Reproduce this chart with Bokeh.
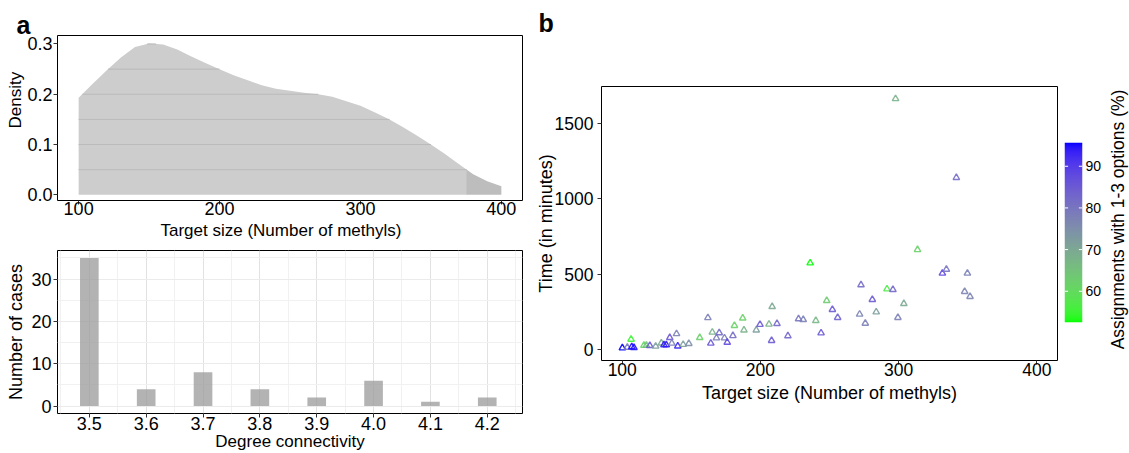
import numpy as np
from bokeh.plotting import figure
from bokeh.models import Range1d, FixedTicker, PrintfTickFormatter, Label, LinearColorMapper, Title
from bokeh.layouts import row, column
from bokeh.embed import file_html
from bokeh.resources import INLINE

FONT = "Liberation Sans"

# ---------------- data ----------------
# panel a (top): density of target size
density_x = [100, 110, 120, 130, 140, 150, 160, 170, 180, 190, 200, 210, 220, 230, 240, 250,
             260, 270, 280, 290, 300, 310, 320, 330, 340, 350, 360, 370, 375, 380, 390, 400]
density_y = [0.193, 0.221, 0.248, 0.273, 0.294, 0.301, 0.299, 0.289, 0.275, 0.262, 0.250, 0.238,
             0.228, 0.218, 0.211, 0.207, 0.203, 0.200, 0.195, 0.186, 0.177, 0.164, 0.151, 0.135,
             0.118, 0.100, 0.081, 0.061, 0.051, 0.041, 0.027, 0.017]

# panel a (bottom): histogram of degree connectivity
degree = [3.5, 3.6, 3.7, 3.8, 3.9, 4.0, 4.1, 4.2]
n_cases = [35, 4, 8, 4, 2, 6, 1, 2]

# panel b: scatter
target_size = [100.1, 103.7, 106.4, 106.9, 108.5, 115.7, 117.5, 120.0, 124.2, 128.3, 130.2, 131.9,
               134.4, 135.9, 139.3, 140.2, 144.1, 148.2, 156.1, 162.0, 164.1, 165.2, 168.2, 170.2,
               174.0, 176.0, 180.1, 181.2, 187.2, 188.1, 197.0, 199.7, 206.2, 208.5, 208.1, 212.0,
               219.9, 227.6, 231.0, 236.0, 240.1, 243.9, 248.0, 252.1, 255.9, 271.8, 272.8, 275.9,
               281.0, 283.8, 291.6, 295.9, 299.5, 297.8, 303.8, 313.7, 331.7, 334.6, 341.8, 347.8,
               349.8, 351.7]
time_min = [13, 17, 70, 20, 15, 30, 30, 28, 24, 45, 33, 33, 81, 44, 107, 25, 36, 42, 81, 213,
            44, 117, 79, 113, 79, 50, 94, 161, 210, 131, 131, 168, 170, 286, 62, 174, 93, 205,
            200, 575, 194, 112, 326, 267, 214, 236, 430, 176, 333, 251, 403, 399, 214, 1662, 306,
            663, 507, 533, 1140, 386, 507, 353]
assign_pct = [95.7, 80, 55, 95, 95, 60, 66, 85, 72, 70, 94, 94, 85, 78, 78, 93, 72, 75, 62, 78,
              86, 68, 78, 82, 78, 88, 82, 62, 62, 68, 72, 85, 68, 70, 85, 83, 83, 80, 78, 52.5,
              67, 85, 63, 85, 84, 77, 82, 78, 85, 72, 57, 83, 78, 68, 70, 62, 88, 80, 82, 77,
              78, 77]

x_ticks = [100, 200, 300, 400]
dens_ticks = [0.0, 0.1, 0.2, 0.3]
count_ticks = [0, 10, 20, 30]
time_ticks = [0, 500, 1000, 1500]
cbar_ticks = [60, 70, 80, 90]
CB_LOW, CB_HIGH = 52.5, 95.7

# ---------------- colour ramp (CIELAB, green -> blue) ----------------
M = np.array([[0.4124564, 0.3575761, 0.1804375],
              [0.2126729, 0.7151522, 0.0721750],
              [0.0193339, 0.1191920, 0.9503041]])
WP = np.array([0.95047, 1.0, 1.08883])


def to_lab(hexc):
    c = np.array([int(hexc[i:i + 2], 16) for i in (1, 3, 5)]) / 255.0
    lin = np.where(c <= 0.04045, c / 12.92, ((c + 0.055) / 1.055) ** 2.4)
    t = (M @ lin) / WP
    d = 6 / 29
    f = np.where(t > d ** 3, np.cbrt(t), t / (3 * d * d) + 4 / 29)
    return np.array([116 * f[1] - 16, 500 * (f[0] - f[1]), 200 * (f[1] - f[2])])


def to_hex(lab):
    L, a, b = lab
    fy = (L + 16) / 116
    f = np.array([fy + a / 500, fy, fy - b / 200])
    d = 6 / 29
    t = np.where(f > d, f ** 3, 3 * d * d * (f - 4 / 29))
    lin = np.clip(np.linalg.inv(M) @ (t * WP), 0, 1)
    c = np.where(lin <= 0.0031308, 12.92 * lin, 1.055 * lin ** (1 / 2.4) - 0.055)
    return "#%02x%02x%02x" % tuple(int(round(v * 255)) for v in c)


LAB_LO, LAB_HI = to_lab("#00FF00"), to_lab("#0000FF")


def ramp(t):
    t = min(max(t, 0.0), 1.0)
    return to_hex(LAB_LO + (LAB_HI - LAB_LO) * t)


palette = [ramp(t) for t in np.linspace(0, 1, 256)]
point_colors = [ramp((v - CB_LOW) / (CB_HIGH - CB_LOW)) for v in assign_pct]


def style_axes(p, size="18px"):
    for ax in (p.xaxis, p.yaxis):
        ax.axis_line_color = None
        ax.major_tick_out = 4
        ax.major_tick_in = 0
        ax.minor_tick_out = 0
        ax.minor_tick_in = 0
        ax.major_tick_line_color = "#333333"
        ax.major_label_text_font = FONT
        ax.major_label_text_font_size = size
        ax.major_label_text_color = "black"
        ax.axis_label_text_font = FONT
        ax.axis_label_text_font_style = "normal"
        ax.axis_label_text_color = "black"
    p.outline_line_color = "black"
    p.outline_line_width = 1
    p.outline_line_alpha = 1


def side_title(text, size, offset=0, standoff=0):
    return Title(text=text, align="left", offset=offset, standoff=standoff, text_font=FONT,
                 text_font_size=size, text_font_style="normal", text_color="black")


def blank(width, height):
    p = figure(width=width, height=height, x_range=Range1d(0, width), y_range=Range1d(0, height),
               min_border_left=0, min_border_right=0, min_border_top=0, min_border_bottom=0,
               x_axis_location=None, y_axis_location=None,
               output_backend="svg", toolbar_location=None)
    p.xgrid.visible = False
    p.ygrid.visible = False
    p.outline_line_color = None
    return p


# ---------------- panel a, top: density ----------------
p1 = figure(width=528, height=246, x_range=Range1d(85, 415), y_range=Range1d(-0.0113, 0.3169),
            min_border_left=57, min_border_right=6, min_border_top=35, min_border_bottom=46,
            output_backend="svg", toolbar_location=None)
style_axes(p1)
p1.xgrid.visible = False
p1.ygrid.visible = False
p1.xaxis.ticker = FixedTicker(ticks=x_ticks)
p1.yaxis.ticker = FixedTicker(ticks=dens_ticks)
p1.yaxis.formatter = PrintfTickFormatter(format="%.1f")
p1.xaxis.major_label_standoff = -3
p1.yaxis.major_label_standoff = 1
p1.title.text = "a"
p1.title.align = "left"
p1.title.offset = -41
p1.title.standoff = -6
p1.title.text_font = FONT
p1.title.text_font_size = "25px"
p1.title.text_font_style = "bold"
p1.title.text_color = "black"
p1.add_layout(side_title("Density", "17px", offset=72), "left")
p1.add_layout(side_title("Target size (Number of methyls)", "17px", offset=103, standoff=2), "below")

dx = np.array(density_x, float)
dy = np.array(density_y, float)
light = dx <= 375
dark = dx >= 375
p1.varea(x=dx[light], y1=0, y2=dy[light], fill_color="#cdcdcd")
p1.varea(x=dx[dark], y1=0, y2=dy[dark], fill_color="#bdbdbd")
# reference lines visible only inside the filled area
xf = np.linspace(dx[0], dx[-1], 1501)
df = np.interp(xf, dx, dy)
lv, x0s, x1s = [], [], []
for L in [0.05, 0.10, 0.15, 0.20, 0.25, 0.30]:
    m = df >= L
    if m.any():
        lv.append(L)
        x0s.append(xf[m].min())
        x1s.append(xf[m].max())
p1.segment(x0=x0s, y0=lv, x1=x1s, y1=lv, line_color="#bababa", line_width=1)

# ---------------- panel a, bottom: histogram ----------------
p2 = figure(width=528, height=207, x_range=Range1d(3.444, 4.262), y_range=Range1d(-1.75, 36.75),
            min_border_left=57, min_border_right=6, min_border_top=4, min_border_bottom=40,
            output_backend="svg", toolbar_location=None)
style_axes(p2)
p2.xaxis.ticker = FixedTicker(ticks=degree, minor_ticks=[round(d - 0.05, 2) for d in degree] + [4.25])
p2.yaxis.ticker = FixedTicker(ticks=count_ticks, minor_ticks=[5, 15, 25, 35])
p2.xaxis.formatter = PrintfTickFormatter(format="%.1f")
p2.xaxis.major_label_standoff = -1
p2.yaxis.major_label_standoff = 2
p2.xaxis.axis_label = "Degree connectivity"
p2.xaxis.axis_label_text_font_size = "17px"
p2.xaxis.axis_label_standoff = -1
p2.yaxis.axis_label = "Number of cases"
p2.yaxis.axis_label_text_font_size = "18px"
p2.yaxis.axis_label_standoff = 2
for g in (p2.xgrid, p2.ygrid):
    g.grid_line_color = "#e2e2e2"
    g.minor_grid_line_color = "#f1f1f1"
p2.ygrid.grid_line_color = "#ebebeb"
p2.vbar(x=degree, top=n_cases, bottom=0, width=0.0328, fill_color="#9a9a9a", fill_alpha=0.75,
        line_color=None)

# ---------------- panel b label ----------------
pb = blank(532, 86)
pb.add_layout(Label(x=10, y=64, text="b", text_font=FONT, text_font_size="25px",
                    text_font_style="bold", text_baseline="alphabetic", text_color="black"))

# ---------------- panel b: scatter ----------------
p3 = figure(width=532, height=367, x_range=Range1d(85, 415), y_range=Range1d(-70, 1743),
            min_border_left=73, min_border_right=3, min_border_top=0, min_border_bottom=93,
            output_backend="svg", toolbar_location=None)
style_axes(p3, size="17.5px")
p3.xgrid.visible = False
p3.ygrid.visible = False
p3.xaxis.ticker = FixedTicker(ticks=x_ticks)
p3.yaxis.ticker = FixedTicker(ticks=time_ticks)
p3.xaxis.axis_label = "Target size (Number of methyls)"
p3.yaxis.axis_label = "Time (in minutes)"
p3.xaxis.axis_label_text_font_size = "18px"
p3.yaxis.axis_label_text_font_size = "18px"
p3.xaxis.major_label_standoff = -2
p3.xaxis.axis_label_standoff = 4
p3.yaxis.major_label_standoff = 4
p3.yaxis.axis_label_standoff = -4
p3.scatter(x=target_size, y=time_min, marker="triangle", size=6.5, fill_color=None,
           line_color=point_colors, line_width=1.4, line_alpha=0.9)

# ---------------- colour bar ----------------
p4 = figure(width=44, height=453, x_range=Range1d(0, 1), y_range=Range1d(CB_LOW, CB_HIGH),
            min_border_left=4, min_border_right=21, min_border_top=142, min_border_bottom=131,
            x_axis_location=None, y_axis_location="right",
            output_backend="svg", toolbar_location=None)
p4.xgrid.visible = False
p4.ygrid.visible = False
p4.outline_line_color = None
grad = np.linspace(CB_LOW, CB_HIGH, 256).reshape(256, 1)
p4.image(image=[grad], x=0, y=CB_LOW, dw=1, dh=CB_HIGH - CB_LOW,
         color_mapper=LinearColorMapper(palette=palette, low=CB_LOW, high=CB_HIGH))
p4.segment(x0=[0] * 4, x1=[0.2] * 4, y0=cbar_ticks, y1=cbar_ticks, line_color="white", line_width=1)
p4.segment(x0=[0.8] * 4, x1=[1] * 4, y0=cbar_ticks, y1=cbar_ticks, line_color="white", line_width=1)
p4.yaxis.ticker = FixedTicker(ticks=cbar_ticks)
p4.yaxis.axis_line_color = None
p4.yaxis.major_tick_out = 0
p4.yaxis.major_tick_in = 0
p4.yaxis.minor_tick_out = 0
p4.yaxis.minor_tick_in = 0
p4.yaxis.major_label_standoff = 3
p4.yaxis.major_label_text_font = FONT
p4.yaxis.major_label_text_font_size = "14px"
p4.yaxis.major_label_text_color = "black"

# ---------------- colour bar title ----------------
p5 = blank(25, 453)
p5.add_layout(Label(x=13.5, y=234, text="Assignments with 1-3 options (%)", angle=np.pi / 2,
                    text_align="center", text_baseline="middle", text_font=FONT,
                    text_font_size="17.5px", text_color="black"))

layout = row(column(p1, p2), column(column(pb), p3), column(p4), column(p5))
open("out.html", "w").write(file_html(layout, INLINE, "chart"))
